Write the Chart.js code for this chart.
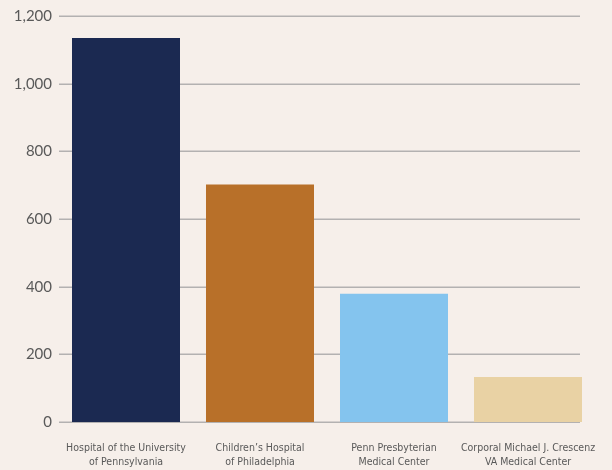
<!DOCTYPE html>
<html>
<head>
<meta charset="utf-8">
<script src="https://cdn.jsdelivr.net/npm/chart.js@4"></script>
<style>
  html, body { margin: 0; padding: 0; background: #f6efea; }
  #wrap { width: 612px; height: 470px; }
</style>
</head>
<body>
<div id="wrap"><canvas id="hospitalChart" width="612" height="470"></canvas></div>
<script>
// hospitals (two-line labels)
const hospitals = [
  ["Hospital of the University", "of Pennsylvania"],
  ["Children\u2019s Hospital", "of Philadelphia"],
  ["Penn Presbyterian", "Medical Center"],
  ["Corporal Michael J. Crescenz", "VA Medical Center"]
];
const counts = [1135, 702, 379, 133];
const barColors = ["#1b2951", "#b87029", "#84c4ee", "#e9d2a4"];
const yTicks = [0, 200, 400, 600, 800, 1000, 1200];

// grid lines drawn by hand so they stop a bit short of the last bar, like the original
const shortGrid = {
  id: 'shortGrid',
  beforeDatasetsDraw(chart) {
    const { ctx, chartArea, scales } = chart;
    ctx.save();
    ctx.strokeStyle = '#b3b1b1';
    ctx.lineWidth = 1.5;
    yTicks.forEach(v => {
      const y = Math.round(scales.y.getPixelForValue(v)) + 0.25;
      ctx.beginPath();
      ctx.moveTo(chartArea.left, y);
      ctx.lineTo(chartArea.right - 15, y);
      ctx.stroke();
    });
    ctx.restore();
  }
};

const ctx = document.getElementById('hospitalChart').getContext('2d');
new Chart(ctx, {
  type: 'bar',
  data: {
    labels: hospitals,
    datasets: [{
      data: counts,
      backgroundColor: barColors,
      borderWidth: 0,
      categoryPercentage: 1,
      barPercentage: 0.806
    }]
  },
  options: {
    responsive: false,
    animation: false,
    layout: { padding: { top: 8, right: 17, left: 0, bottom: 0 } },
    plugins: {
      legend: { display: false },
      tooltip: { enabled: false }
    },
    scales: {
      y: {
        min: 0,
        max: 1200,
        afterBuildTicks: (axis) => { axis.ticks = yTicks.map(v => ({ value: v })); },
        afterFit: (axis) => { axis.width = 59; },
        grid: { display: false, drawTicks: false },
        border: { display: false },
        ticks: {
          color: '#595959',
          padding: 7,
          font: { family: 'Lato', size: 15 }
        }
      },
      x: {
        afterFit: (axis) => {
          axis.height = 48;
          axis.paddingLeft = 0;
          axis.paddingRight = 0;
        },
        grid: { display: false, drawTicks: false },
        border: { display: false },
        ticks: {
          color: '#595959',
          padding: 19,
          maxRotation: 0,
          autoSkip: false,
          font: { family: 'DejaVu Sans Condensed', size: 10.5, lineHeight: 1.33 }
        }
      }
    }
  },
  plugins: [shortGrid]
});
</script>
</body>
</html>
